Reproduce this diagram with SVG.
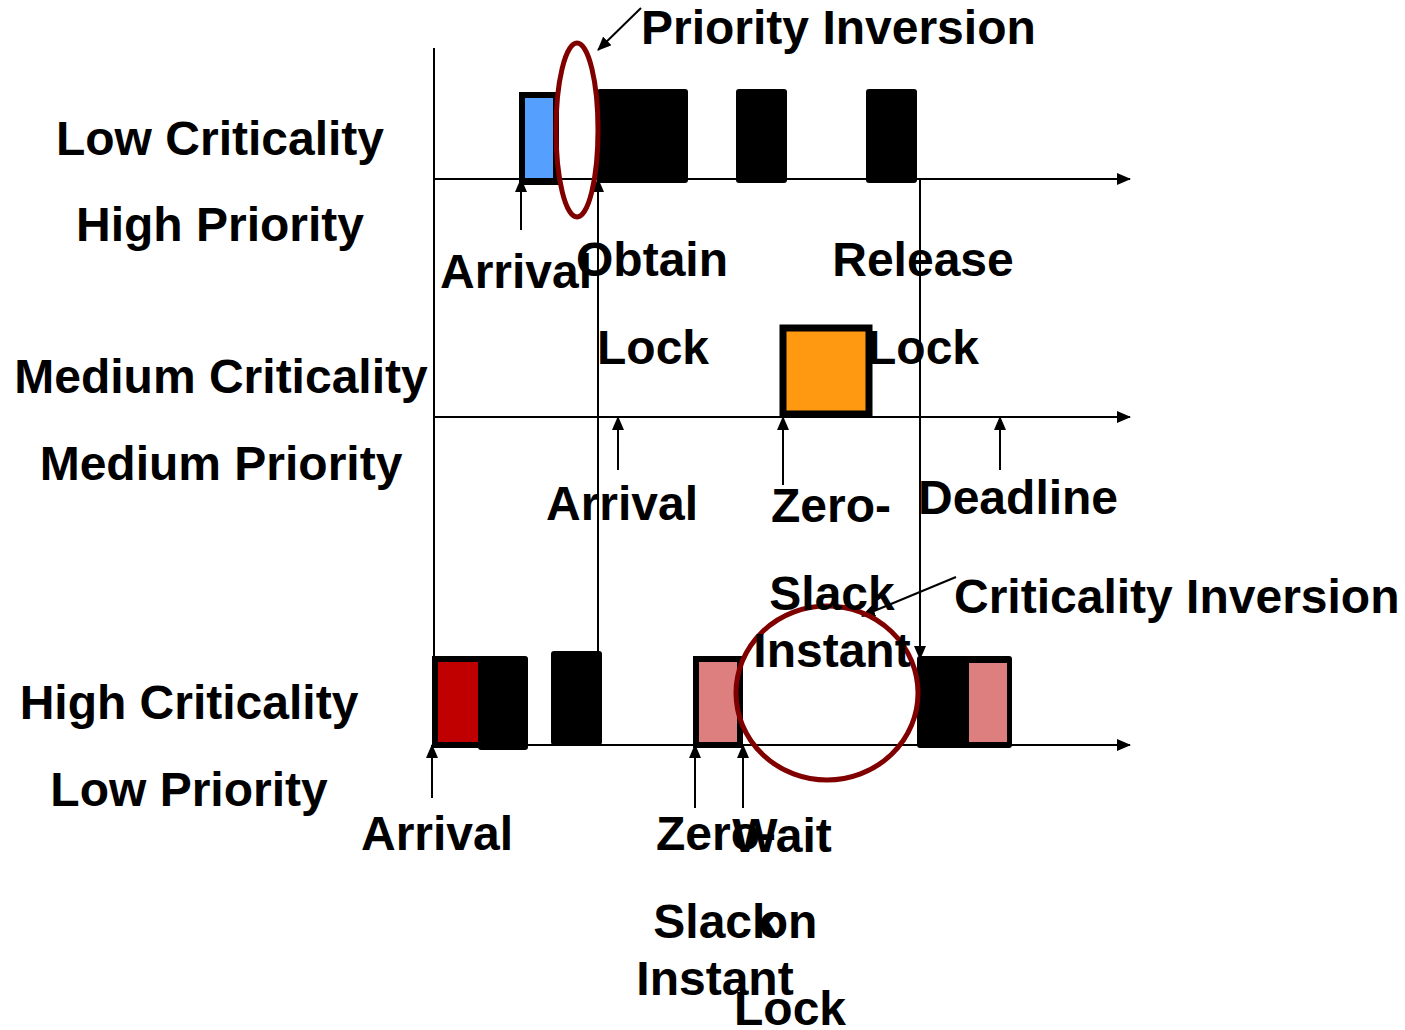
<svg xmlns="http://www.w3.org/2000/svg" width="1405" height="1030" viewBox="0 0 1405 1030">
<style>
text{font-family:"Liberation Sans",Arial,sans-serif;font-weight:bold;font-size:48px;fill:#000}
.c{text-anchor:middle}
.ln{stroke:#000;stroke-width:2;fill:none}
.blk{fill:#000}
.ring{fill:none;stroke:#800000;stroke-width:5}
</style>
<defs>
<marker id="ah" markerWidth="14" markerHeight="12" refX="13" refY="6" orient="auto" markerUnits="userSpaceOnUse">
<path d="M0,0 L14,6 L0,12 Z" fill="#000"/>
</marker>
</defs>
<rect width="1405" height="1030" fill="#fff"/>
<g id="labels">
<text class="c" x="220" y="155">Low Criticality</text>
<text class="c" x="220" y="241">High Priority</text>
<text class="c" x="221" y="393">Medium Criticality</text>
<text class="c" x="221" y="480">Medium Priority</text>
<text class="c" x="189" y="719">High Criticality</text>
<text class="c" x="189" y="806">Low Priority</text>
</g>
<g id="low-row">
<rect x="522" y="95" width="34" height="87" fill="#55A0FF" stroke="#000" stroke-width="6"/>
<rect class="blk" x="597" y="89" width="91" height="94" rx="3"/>
<rect class="blk" x="736" y="89" width="51" height="94" rx="3"/>
<rect class="blk" x="866" y="89" width="51" height="94" rx="3"/>
</g>
<g id="medium-row">
<rect x="783" y="328" width="86" height="86" fill="#FF9912" stroke="#000" stroke-width="7"/>
</g>
<g id="high-row">
<rect x="435" y="659" width="46" height="86" fill="#C00000" stroke="#000" stroke-width="6"/>
<rect class="blk" x="478" y="656" width="50" height="94" rx="3"/>
<rect class="blk" x="551" y="651" width="51" height="94" rx="3"/>
<rect x="696" y="659" width="44" height="86" fill="#DE7F7F" stroke="#000" stroke-width="6"/>
<rect class="blk" x="917" y="656" width="95" height="92" rx="3"/>
<rect x="969" y="663" width="38" height="79" fill="#DE7F7F"/>
</g>
<g id="connectors">
<line class="ln" x1="434" y1="48" x2="434" y2="745"/>
<line class="ln" x1="434" y1="179" x2="1130" y2="179" marker-end="url(#ah)"/>
<line class="ln" x1="434" y1="417" x2="1130" y2="417" marker-end="url(#ah)"/>
<line class="ln" x1="434" y1="745" x2="1130" y2="745" marker-end="url(#ah)"/>
<line class="ln" x1="521" y1="230" x2="521" y2="179" marker-end="url(#ah)"/>
<line class="ln" x1="598" y1="651" x2="598" y2="179" marker-end="url(#ah)"/>
<line class="ln" x1="920" y1="179" x2="920" y2="659" marker-end="url(#ah)"/>
<line class="ln" x1="618" y1="470" x2="618" y2="417" marker-end="url(#ah)"/>
<line class="ln" x1="783" y1="485" x2="783" y2="417" marker-end="url(#ah)"/>
<line class="ln" x1="1000" y1="470" x2="1000" y2="417" marker-end="url(#ah)"/>
<line class="ln" x1="432" y1="798" x2="432" y2="745" marker-end="url(#ah)"/>
<line class="ln" x1="695" y1="808" x2="695" y2="745" marker-end="url(#ah)"/>
<line class="ln" x1="743" y1="808" x2="743" y2="745" marker-end="url(#ah)"/>
<line class="ln" x1="641" y1="8" x2="598" y2="50" marker-end="url(#ah)"/>
<line class="ln" x1="956" y1="577" x2="862" y2="616" marker-end="url(#ah)"/>
</g>
<g id="rings">
<ellipse class="ring" cx="577" cy="130" rx="21" ry="87"/>
<ellipse class="ring" cx="827" cy="693" rx="91" ry="87"/>
</g>
<g id="annotations">
<text x="641" y="44">Priority Inversion</text>
<text x="440" y="288">Arrival</text>
<text class="c" x="652" y="276">Obtain</text>
<text class="c" x="653" y="364">Lock</text>
<text class="c" x="923" y="276">Release</text>
<text class="c" x="923" y="364">Lock</text>
<text x="546" y="520">Arrival</text>
<text class="c" x="831" y="522">Zero-</text>
<text class="c" x="832" y="610">Slack</text>
<text class="c" x="832" y="667">Instant</text>
<text x="918" y="514">Deadline</text>
<text x="954" y="613">Criticality Inversion</text>
<text x="361" y="850">Arrival</text>
<text class="c" x="716" y="850">Zero-</text>
<text class="c" x="716" y="938">Slack</text>
<text class="c" x="715" y="995">Instant</text>
<text class="c" x="782" y="852">Wait</text>
<text class="c" x="788" y="938">on</text>
<text class="c" x="790" y="1025">Lock</text>
</g>
</svg>
